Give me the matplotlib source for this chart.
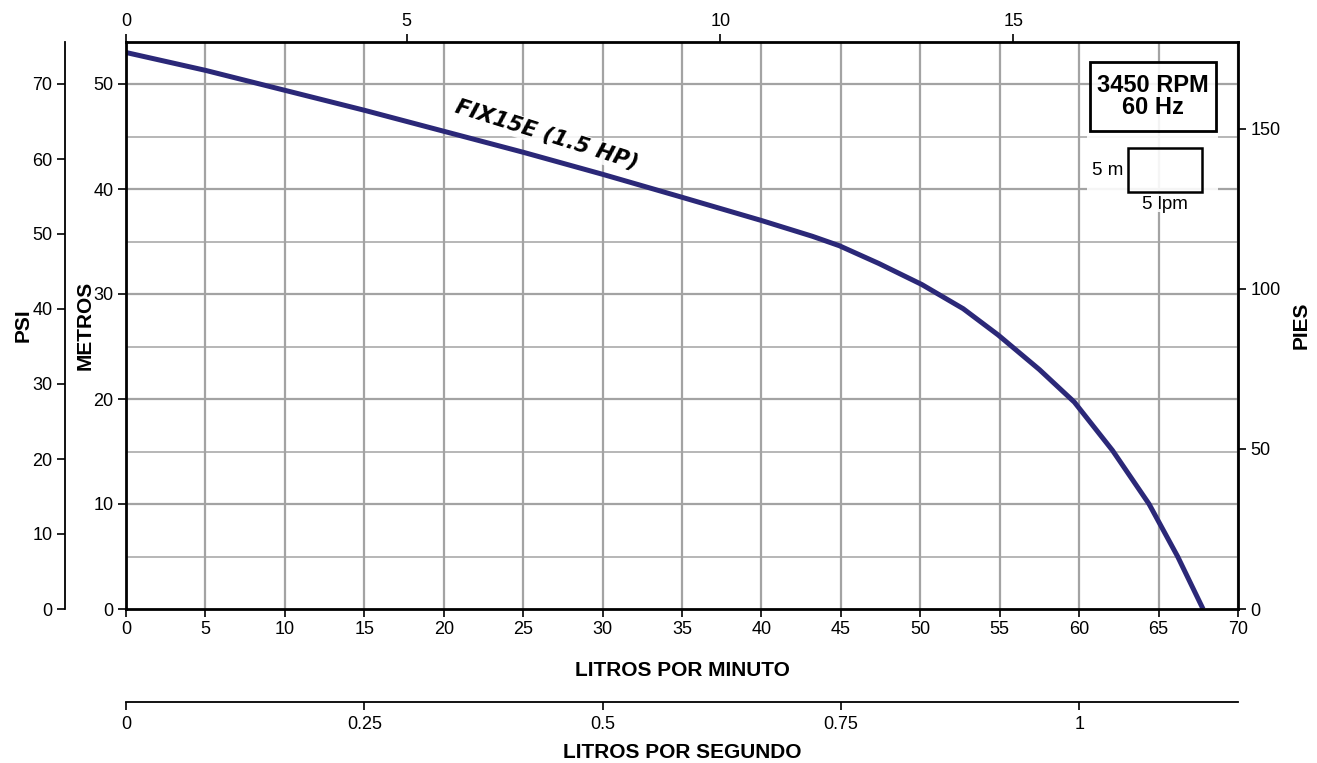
import matplotlib
matplotlib.use("Agg")
import matplotlib.pyplot as plt
from matplotlib.patches import Rectangle

# ---------------- data ----------------
lpm = [0, 5, 10, 15, 20, 25, 30, 34.8, 40.0, 43.2, 44.9, 47.4, 50.1, 52.7,
       54.9, 57.5, 59.7, 62.1, 64.4, 66.2, 67.8]
metros = [53.0, 51.3, 49.4, 47.5, 45.5, 43.5, 41.4, 39.3, 37.0, 35.5, 34.6, 32.9,
          30.9, 28.6, 26.1, 22.8, 19.7, 15.1, 10.0, 5.0, 0.0]
curve_label = "FIX15E (1.5 HP)"

lpm_ticks = list(range(0, 75, 5))
metros_ticks = [0, 10, 20, 30, 40, 50]
psi_ticks = [0, 10, 20, 30, 40, 50, 60, 70]
pies_ticks = [0, 50, 100, 150]
lps_ticks = [0, 0.25, 0.5, 0.75, 1]
lps_labels = ["0", "0.25", "0.5", "0.75", "1"]
gpm_tick_pos_lpm = [0, 17.67, 37.42, 55.85]
gpm_labels = ["0", "5", "10", "15"]

x_max = 70
y_max = 54.0
psi_per_m = 1.40
ft_per_m = 3.2808

font = "Liberation Sans"
curve_color = "#2b2878"
grid_color = "#a3a3a3"

fig = plt.figure(figsize=(13.17, 7.63), dpi=100)
ax = fig.add_axes([126/1317, 1-609/763, 1112/1317, 567/763])

ax.set_xlim(0, x_max)
ax.set_ylim(0, y_max)

# grid
for v in lpm_ticks:
    ax.axvline(v, color=grid_color, lw=1.6, zorder=1)
for h in range(5, 55, 5):
    ax.axhline(h, color=grid_color, lw=1.6 if h % 10 == 0 else 1.1, zorder=1)

ax.plot(lpm, metros, color=curve_color, lw=3.6, zorder=4,
        solid_capstyle="butt", solid_joinstyle="round")

for s in ax.spines.values():
    s.set_linewidth(2.0)
    s.set_color("black")
    s.set_zorder(5)

tick_font = dict(family=font, size=13)
lab_font = dict(family=font, weight="bold", size=15)
ax.set_xticks(lpm_ticks)
ax.set_xticklabels([str(t) for t in lpm_ticks], **tick_font)
ax.set_yticks(metros_ticks)
ax.set_yticklabels([str(t) for t in metros_ticks], **tick_font)
ax.tick_params(axis="both", direction="out", length=6, width=1.2, pad=3)
ax.set_xlabel("LITROS POR MINUTO", labelpad=16, **lab_font)
ax.set_ylabel("METROS", labelpad=-1, **lab_font)

# top GPM axis
axt = ax.twiny()
axt.set_xlim(0, x_max)
axt.set_xticks(gpm_tick_pos_lpm)
axt.set_xticklabels(gpm_labels, **tick_font)
axt.tick_params(axis="x", direction="out", length=6, width=1.2, pad=3)
for s in axt.spines.values():
    s.set_visible(False)

# right PIES axis
axr = ax.twinx()
axr.set_ylim(0, y_max * ft_per_m)
axr.set_yticks(pies_ticks)
axr.set_yticklabels([str(t) for t in pies_ticks], **tick_font)
axr.tick_params(axis="y", direction="out", length=6, width=1.2, pad=3)
axr.set_ylabel("PIES", labelpad=8, **lab_font)
for s in axr.spines.values():
    s.set_visible(False)

# left PSI axis
axp = ax.twinx()
axp.set_ylim(0, y_max * psi_per_m)
axp.yaxis.set_ticks_position("left")
axp.yaxis.set_label_position("left")
for k, s in axp.spines.items():
    s.set_visible(k == "left")
axp.spines["left"].set_position(("outward", 44))
axp.spines["left"].set_linewidth(1.3)
axp.set_yticks(psi_ticks)
axp.set_yticklabels([str(t) for t in psi_ticks], **tick_font)
axp.tick_params(axis="y", direction="out", length=6, width=1.2, pad=3)
axp.set_ylabel("PSI", labelpad=0, **lab_font)

# bottom LPS axis
axs = ax.twiny()
axs.set_xlim(0, x_max / 60)
axs.xaxis.set_ticks_position("bottom")
axs.xaxis.set_label_position("bottom")
for k, s in axs.spines.items():
    s.set_visible(k == "bottom")
axs.spines["bottom"].set_position(("outward", 67))
axs.spines["bottom"].set_linewidth(1.3)
axs.set_xticks(lps_ticks)
axs.set_xticklabels(lps_labels, **tick_font)
axs.tick_params(axis="x", direction="out", length=6, width=1.2, pad=4)
axs.set_xlabel("LITROS POR SEGUNDO", labelpad=7, **lab_font)

# curve label
ax.text(26.5, 45.1, curve_label, rotation=-17.5, rotation_mode="anchor",
        ha="center", va="center", family="DejaVu Sans", weight="bold",
        style="oblique", size=15.5, zorder=3,
        bbox=dict(facecolor="white", edgecolor="none", alpha=0.85, pad=1))

# RPM box
ax.add_patch(Rectangle((0.867, 0.843), 0.113, 0.122, transform=ax.transAxes,
                       facecolor="white", alpha=0.88, edgecolor="none", zorder=6))
ax.add_patch(Rectangle((0.867, 0.843), 0.113, 0.122, transform=ax.transAxes,
                       facecolor="none", edgecolor="black", lw=2.0, zorder=7))
ax.text(0.9235, 0.904, "3450 RPM\n60 Hz", transform=ax.transAxes, ha="center",
        va="center", family=font, weight="bold", size=17, linespacing=0.95, zorder=8)

# scale box
ax.add_patch(Rectangle((0.864, 0.70), 0.118, 0.14, transform=ax.transAxes,
                       facecolor="white", alpha=0.9, edgecolor="none", zorder=6))
ax.add_patch(Rectangle((0.901, 0.735), 0.067, 0.078, transform=ax.transAxes,
                       facecolor="none", edgecolor="black", lw=1.8, zorder=7))
ax.text(0.897, 0.774, "5 m", transform=ax.transAxes, ha="right", va="center",
        family=font, size=13.5, zorder=8)
ax.text(0.934, 0.728, "5 lpm", transform=ax.transAxes, ha="center", va="top",
        family=font, size=13.5, zorder=8)

fig.savefig("out.png", dpi=100, facecolor="white")
